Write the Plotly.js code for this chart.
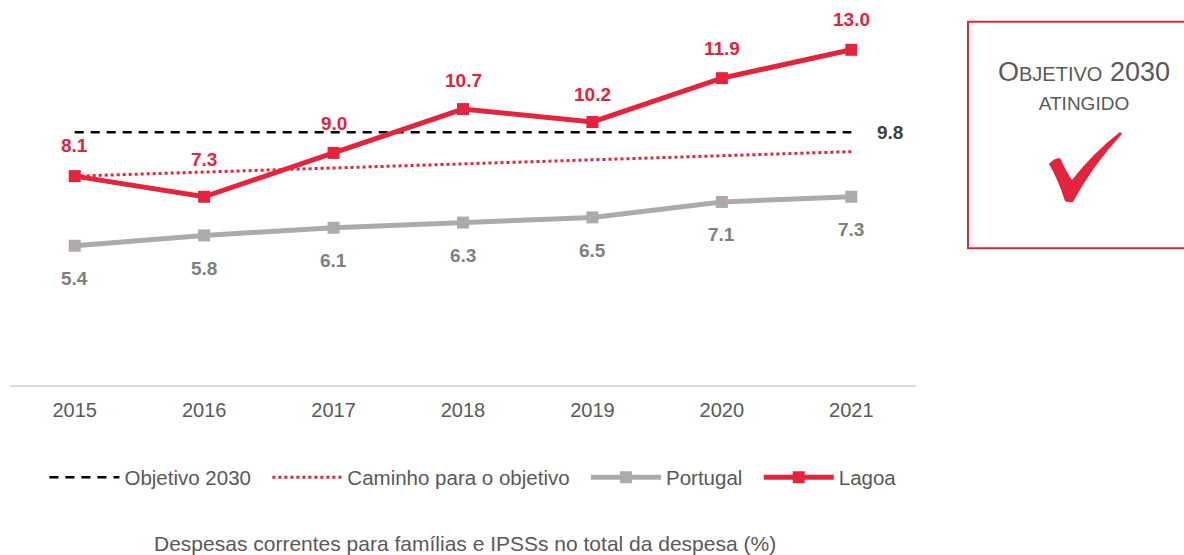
<!DOCTYPE html>
<html>
<head>
<meta charset="utf-8">
<script src="https://cdn.plot.ly/plotly-3.0.1.min.js"></script>
<style>html,body{margin:0;padding:0;background:#fff;}#chart{width:1184px;height:555px;}</style>
</head>
<body>
<div id="chart"></div>
<script>
// ---- data ----
const years = ["2015", "2016", "2017", "2018", "2019", "2020", "2021"];
const lagoa = [8.1, 7.3, 9.0, 10.7, 10.2, 11.9, 13.0];
const portugal = [5.4, 5.8, 6.1, 6.3, 6.5, 7.1, 7.3];
const objetivo2030 = [9.8, 9.8, 9.8, 9.8, 9.8, 9.8, 9.8];
const caminhoYears = ["2015", "2021"];
const caminho = [8.1, 9.05];
const objetivoLabel = "9.8";
const seriesNames = ["Objetivo 2030", "Caminho para o objetivo", "Portugal", "Lagoa"];
const chartTitle = "Despesas correntes para famílias e IPSSs no total da despesa (%)";

// ---- styles ----
const RED = "#E4233D";
const GRAY = "#AEAAAA";
const LABELGRAY = "#7F7F7F";
const TEXT = "#595959";
const FONT = "Liberation Sans, Arial, sans-serif";
const lagoaLabelShift = [31, 37, 29, 29, 27, 30, 30];
const GAP = "\u00a0\u00a0";

const traces = [
  {x: years, y: objetivo2030, name: seriesNames[0] + GAP, type: "scatter", mode: "lines",
   line: {color: "#000000", width: 2.5, dash: "9px,7px"}, hoverinfo: "skip"},
  {x: caminhoYears, y: caminho, name: seriesNames[1] + GAP, type: "scatter", mode: "lines",
   line: {color: RED, width: 3, dash: "dot"}, hoverinfo: "skip"},
  {x: years, y: portugal, name: seriesNames[2] + GAP, type: "scatter", mode: "lines+markers",
   line: {color: GRAY, width: 5}, marker: {symbol: "square", size: 12, color: GRAY}},
  {x: years, y: lagoa, name: seriesNames[3], type: "scatter", mode: "lines+markers",
   line: {color: RED, width: 5}, marker: {symbol: "square", size: 12, color: RED}}
];

// category axes position annotations by category index
const annotations = [];
years.forEach((yr, i) => {
  const xi = years.indexOf(yr);
  annotations.push({x: xi, y: lagoa[i], xref: "x", yref: "y", text: "<b>" + lagoa[i].toFixed(1) + "</b>",
    showarrow: false, yshift: lagoaLabelShift[i], xanchor: "center", yanchor: "middle",
    font: {family: FONT, size: 19, color: RED}});
  annotations.push({x: xi, y: portugal[i], xref: "x", yref: "y", text: "<b>" + portugal[i].toFixed(1) + "</b>",
    showarrow: false, yshift: -33, xanchor: "center", yanchor: "middle",
    font: {family: FONT, size: 19, color: LABELGRAY}});
});
annotations.push({x: years.length - 1, y: objetivo2030[objetivo2030.length - 1], xref: "x", yref: "y",
  text: "<b>" + objetivoLabel + "</b>", showarrow: false, xshift: 39, yshift: 0, xanchor: "center", yanchor: "middle",
  font: {family: FONT, size: 19, color: "#404040"}});
annotations.push({x: 0.502, y: -0.438, xref: "paper", yref: "paper", text: chartTitle,
  showarrow: false, xanchor: "center", yanchor: "middle", font: {family: FONT, size: 21, color: TEXT}});
annotations.push({x: 1.1849, y: 0.83, xref: "paper", yref: "paper",
  text: "<span style=\"font-size:27px\">O</span><span style=\"font-size:20px\">BJETIVO</span><span style=\"font-size:27px\"> 2030</span><br><span style=\"font-size:19px\">ATINGIDO</span>",
  showarrow: false, xanchor: "center", yanchor: "middle", font: {family: FONT, size: 22, color: TEXT}});

const layout = {
  width: 1184, height: 555,
  margin: {l: 10, r: 268, t: 24.2, b: 170.4},
  paper_bgcolor: "#ffffff", plot_bgcolor: "#ffffff",
  font: {family: FONT, size: 18, color: TEXT},
  showlegend: true,
  legend: {orientation: "h", x: 0.511, xanchor: "center", y: -0.256, yanchor: "middle",
    font: {family: FONT, size: 20.5, color: TEXT}, itemwidth: 70, traceorder: "normal"},
  xaxis: {type: "category", categoryorder: "array", categoryarray: years, range: [-0.5, 6.5],
    showline: true, linecolor: "#D9D9D9", linewidth: 2, showgrid: false, zeroline: false,
    ticks: "", ticklabelstandoff: 6, tickfont: {family: FONT, size: 20, color: TEXT}, fixedrange: true},
  yaxis: {range: [0, 14], showticklabels: false, ticks: "", showline: false, showgrid: false,
    zeroline: false, fixedrange: true},
  shapes: [
    {type: "rect", xref: "paper", yref: "paper", x0: 1.0574, x1: 1.32, y0: 0.379, y1: 1.006,
     line: {color: RED, width: 2}, fillcolor: "rgba(0,0,0,0)"},
    // decorative check mark (pixel offsets around an anchor inside the box)
    {type: "path", xref: "paper", yref: "paper", xsizemode: "pixel", ysizemode: "pixel",
     xanchor: 1.1865, yanchor: 0.604,
     path: "M-36,3 Q-31,9 -25,9 Q-19,-4 -13,-13 Q8,14 35,35 L37,33 Q8,2 -12,-35 Q-16,-36 -20,-34 Q-27,-12 -36,3 Z",
     fillcolor: RED, line: {width: 0}}
  ],
  annotations: annotations
};

Plotly.newPlot("chart", traces, layout, {displayModeBar: false, staticPlot: true});
</script>
</body>
</html>
